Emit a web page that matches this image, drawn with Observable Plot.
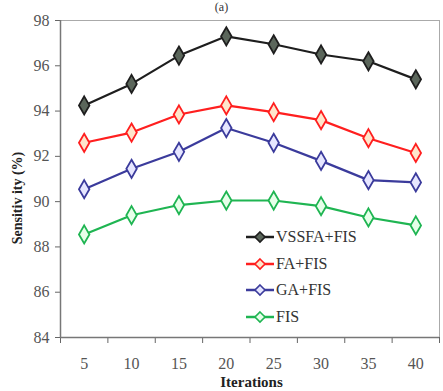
<!DOCTYPE html>
<html><head><meta charset="utf-8">
<script src="https://cdn.jsdelivr.net/npm/d3@7"></script>
<script src="https://cdn.jsdelivr.net/npm/@observablehq/plot@0.6"></script>
<style>
body{margin:0;background:#fff;}
#wrap{position:relative;width:443px;height:391px;overflow:hidden;font-family:"Liberation Serif","Times New Roman","DejaVu Serif",serif;}
#title{position:absolute;top:1px;left:0;width:443px;text-align:center;font-size:12px;line-height:13px;color:#333;}
#ylab{position:absolute;left:18px;top:198px;transform:translate(-50%,-50%) rotate(-90deg);font-weight:bold;font-size:14px;color:#222;white-space:nowrap;}
#xlab{position:absolute;left:0;top:375px;width:443px;text-align:center;font-size:15px;line-height:15px;font-weight:bold;color:#222;padding-left:60px;box-sizing:border-box;}
#legend{position:absolute;left:246px;top:224px;}
.row{display:flex;align-items:center;height:26.5px;font-size:16px;color:#333;}
.row svg{margin-right:2px;}
svg text{font-family:"Liberation Serif","Times New Roman","DejaVu Serif",serif;}
</style></head>
<body><div id="wrap"><div id="chart"></div><div id="title">(a)</div><div id="ylab">Sensitiv ity (%)</div><div id="xlab">Iterations</div><div id="legend"></div></div>
<script>
const iterations = [5, 10, 15, 20, 25, 30, 35, 40];
const seriesNames = ["VSSFA+FIS", "FA+FIS", "GA+FIS", "FIS"];
const vssfaFis = [94.25, 95.2, 96.45, 97.3, 96.95, 96.5, 96.2, 95.4];
const faFis = [92.6, 93.05, 93.85, 94.25, 93.95, 93.6, 92.8, 92.15];
const gaFis = [90.55, 91.45, 92.2, 93.25, 92.6, 91.8, 90.95, 90.85];
const fis = [88.55, 89.4, 89.85, 90.05, 90.05, 89.8, 89.3, 88.95];
const yTicks = [84, 86, 88, 90, 92, 94, 96, 98];
const xBoundaries = [2.5, 7.5, 12.5, 17.5, 22.5, 27.5, 32.5, 37.5, 42.5];
const strokes = ["#1e1e1e", "#ff1f1f", "#3b3b9c", "#1fb552"];
const fills = ["#5b665b", "#ffe6cc", "#e6e6ff", "#e6ffe9"];

const allSeries = [vssfaFis, faFis, gaFis, fis];
const rows = [];
allSeries.forEach((vals, si) => vals.forEach((v, i) => rows.push({series: seriesNames[si], x: iterations[i], y: v})));

const serif = "Liberation Serif, Times New Roman, DejaVu Serif, serif";
const marks = [
  Plot.frame({stroke: "#aaa"}),
  Plot.axisY({ticks: yTicks, tickSize: 5, tickPadding: 6, fontSize: 16, label: null, stroke: "#666", color: "#555", fontFamily: serif}),
  Plot.axisX({ticks: xBoundaries, tickFormat: () => "", tickSize: 6, label: null, stroke: "#666"}),
  Plot.axisX({ticks: iterations, tickSize: 0, tickPadding: 20, fontSize: 16, label: null, color: "#555", fontFamily: serif}),
  Plot.ruleY([84], {stroke: "#777", strokeWidth: 1.5}),
  Plot.ruleX([2.5], {stroke: "#777", strokeWidth: 1.5})
];
seriesNames.forEach((name, si) => {
  const d = rows.filter(r => r.series === name);
  marks.push(Plot.line(d, {x: "x", y: "y", stroke: strokes[si], strokeWidth: 2.2}));
  marks.push(Plot.dot(d, {x: "x", y: "y", symbol: "diamond", r: 5.5, fill: fills[si], stroke: strokes[si], strokeWidth: 1.8}));
});

const chart = Plot.plot({
  width: 443, height: 391,
  marginLeft: 60, marginRight: 4, marginTop: 20, marginBottom: 54,
  x: {domain: [2.5, 42.5], axis: null},
  y: {domain: [84, 98], axis: null},
  style: {fontFamily: serif, background: "white"},
  marks
});
document.getElementById("chart").appendChild(chart);

const leg = document.getElementById("legend");
seriesNames.forEach((name, si) => {
  const row = document.createElement("div");
  row.className = "row";
  row.innerHTML = `<svg width="28" height="14"><line x1="0" y1="7" x2="28" y2="7" stroke="${strokes[si]}" stroke-width="2.5"/><path d="M14,2 L19,7 L14,12 L9,7Z" fill="${fills[si]}" stroke="${strokes[si]}" stroke-width="1.6"/></svg><span>${name}</span>`;
  leg.appendChild(row);
});
</script></body></html>
